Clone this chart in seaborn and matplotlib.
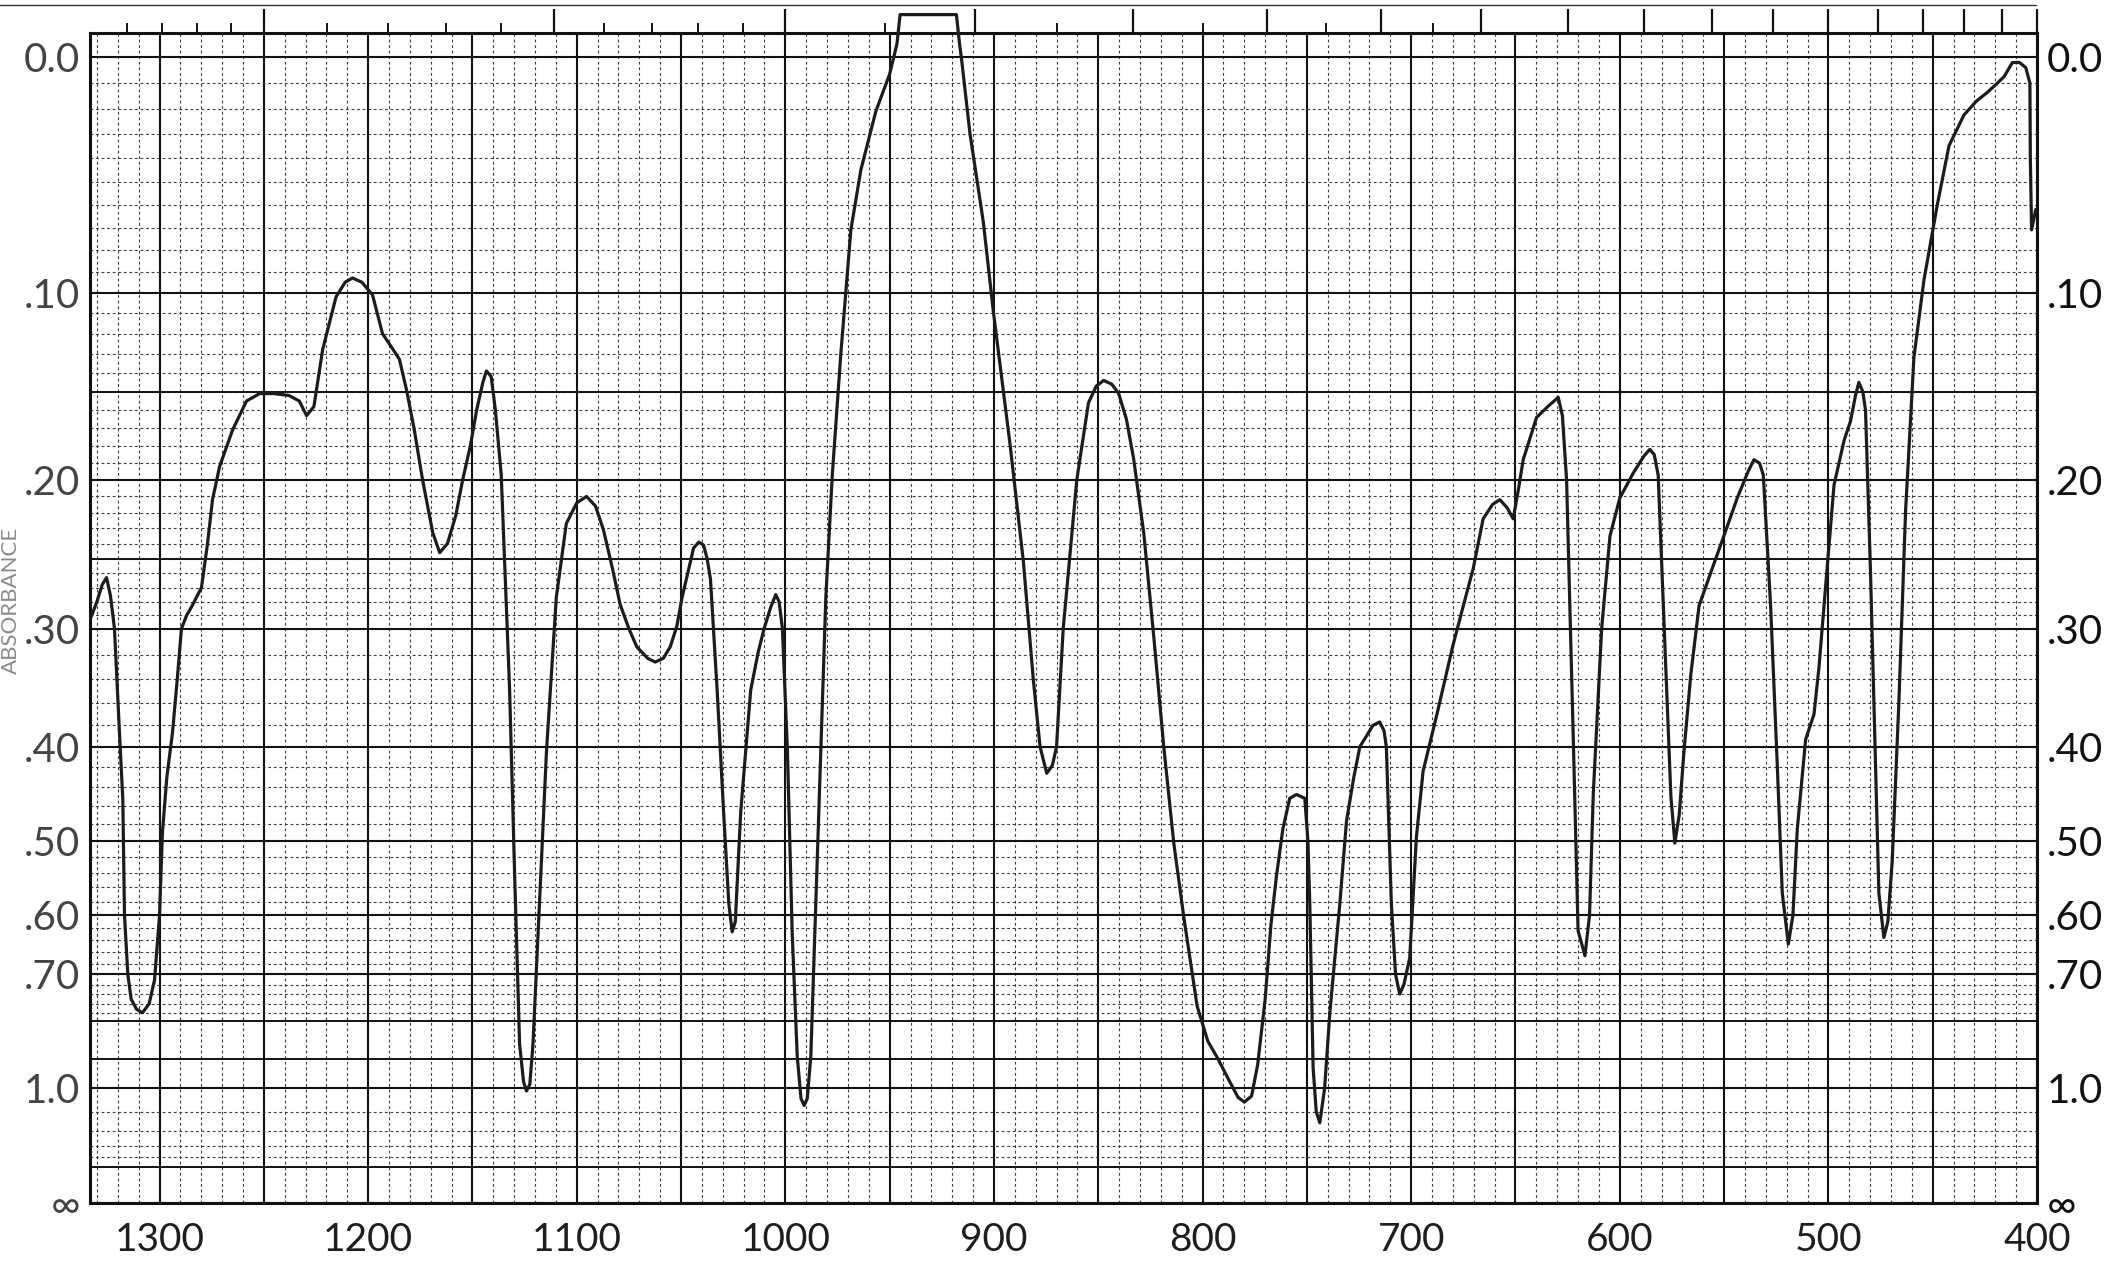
import numpy as np
import seaborn as sns
import matplotlib.pyplot as plt
from matplotlib.lines import Line2D

# wavenumber (cm-1) and absorbance
wavenumber = [
    1333.0, 1330.0, 1327.5, 1325.4, 1323.5, 1321.6, 1319.2, 1317.6, 1316.8, 1315.2,
    1313.6, 1311.0, 1308.2, 1305.0, 1302.4, 1300.0, 1298.6, 1296.5, 1293.8, 1291.5,
    1289.5, 1287.0, 1284.7, 1279.9, 1277.0, 1274.6, 1271.2, 1265.0, 1258.3, 1252.0,
    1245.0, 1238.0, 1233.0, 1229.5, 1226.0, 1221.8, 1215.4, 1211.0, 1207.5, 1203.0,
    1197.9, 1193.1, 1188.0, 1185.0, 1181.6, 1178.0, 1173.9, 1169.0, 1165.7, 1162.0,
    1158.0, 1154.7, 1151.0, 1148.0, 1145.0, 1143.3, 1141.0, 1139.0, 1136.2, 1132.2,
    1129.8, 1127.4, 1125.5, 1124.1, 1122.5, 1121.0, 1119.5, 1114.5, 1109.8, 1105.0,
    1100.0, 1095.3, 1091.0, 1087.2, 1083.0, 1079.2, 1075.0, 1071.2, 1066.0, 1062.4,
    1058.5, 1055.2, 1052.0, 1049.5, 1046.5, 1044.0, 1041.5, 1039.2, 1037.5, 1035.9,
    1032.7, 1029.6, 1027.1, 1025.5, 1024.0, 1021.4, 1016.6, 1013.0, 1010.2, 1007.0,
    1004.6, 1003.0, 1001.4, 999.0, 996.7, 994.3, 992.5, 991.0, 989.5, 987.8,
    985.4, 983.0, 980.6, 977.5, 973.4, 968.6, 963.8, 956.6, 950.0, 946.5,
    945.0, 930.0, 918.0, 916.5, 915.5, 911.5, 905.1, 900.3, 896.0, 892.3,
    885.9, 881.1, 877.9, 874.7, 872.0, 870.0, 866.8, 860.3, 854.7, 851.0,
    847.4, 843.5, 840.2, 836.5, 833.1, 828.2, 823.4, 818.6, 813.8, 809.0,
    802.6, 797.5, 792.9, 787.0, 783.0, 780.0, 776.5, 773.6, 770.0, 767.2,
    764.6, 761.5, 758.2, 755.0, 751.0, 749.5, 748.6, 747.0, 745.5, 743.8,
    741.5, 739.0, 734.2, 731.0, 727.5, 724.6, 718.3, 715.1, 713.0, 711.9,
    709.5, 707.5, 705.5, 703.5, 700.7, 697.5, 694.3, 687.9, 680.0, 675.0,
    670.3, 665.5, 661.0, 657.5, 654.0, 651.1, 648.5, 646.3, 639.9, 634.5,
    629.5, 627.5, 625.5, 622.3, 620.0, 616.7, 614.5, 612.7, 608.7, 604.7,
    600.0, 593.6, 588.5, 585.6, 583.5, 581.6, 577.6, 575.5, 573.6, 571.5,
    569.3, 566.0, 562.0, 556.5, 550.1, 543.7, 538.5, 535.7, 533.0, 531.2,
    527.7, 524.5, 522.1, 519.2, 517.0, 514.9, 510.9, 506.9, 504.5, 502.1,
    497.3, 492.5, 489.4, 487.0, 485.4, 483.5, 482.2, 479.8, 477.4, 475.8,
    473.4, 471.5, 469.4, 466.2, 463.0, 459.0, 454.2, 447.8, 442.2, 435.0,
    429.0, 423.8, 419.0, 415.8, 411.8, 408.5, 405.4, 403.4, 403.2, 402.6,
    401.5, 400.6,
]
absorbance = [
    0.292, 0.280, 0.268, 0.263, 0.276, 0.300, 0.387, 0.453, 0.600, 0.700,
    0.750, 0.772, 0.780, 0.760, 0.711, 0.600, 0.490, 0.430, 0.387, 0.340,
    0.300, 0.290, 0.284, 0.270, 0.240, 0.212, 0.192, 0.171, 0.155, 0.151,
    0.151, 0.152, 0.155, 0.163, 0.158, 0.128, 0.102, 0.095, 0.093, 0.095,
    0.101, 0.120, 0.128, 0.133, 0.149, 0.170, 0.200, 0.233, 0.246, 0.240,
    0.222, 0.200, 0.180, 0.160, 0.145, 0.139, 0.142, 0.160, 0.197, 0.348,
    0.540, 0.858, 0.975, 1.010, 0.985, 0.860, 0.705, 0.404, 0.277, 0.227,
    0.214, 0.210, 0.216, 0.231, 0.256, 0.282, 0.300, 0.314, 0.323, 0.326,
    0.323, 0.314, 0.298, 0.277, 0.258, 0.243, 0.239, 0.241, 0.250, 0.264,
    0.349, 0.467, 0.583, 0.626, 0.610, 0.467, 0.349, 0.318, 0.300, 0.284,
    0.275, 0.280, 0.300, 0.404, 0.630, 0.893, 1.040, 1.070, 1.040, 0.893,
    0.583, 0.404, 0.277, 0.197, 0.130, 0.071, 0.045, 0.021, 0.0065, -0.005,
    -0.0158, -0.0158, -0.0158, -0.005, 0.001, 0.030, 0.0675, 0.109, 0.145, 0.179,
    0.252, 0.341, 0.400, 0.426, 0.418, 0.400, 0.300, 0.200, 0.156, 0.147,
    0.144, 0.146, 0.151, 0.165, 0.187, 0.233, 0.306, 0.400, 0.503, 0.603,
    0.765, 0.850, 0.897, 0.975, 1.035, 1.055, 1.030, 0.919, 0.750, 0.614,
    0.545, 0.486, 0.452, 0.448, 0.452, 0.500, 0.583, 0.929, 1.100, 1.155,
    1.000, 0.780, 0.583, 0.477, 0.430, 0.400, 0.380, 0.377, 0.385, 0.400,
    0.583, 0.700, 0.739, 0.720, 0.670, 0.496, 0.424, 0.372, 0.313, 0.283,
    0.257, 0.224, 0.215, 0.212, 0.217, 0.224, 0.205, 0.188, 0.164, 0.158,
    0.153, 0.163, 0.200, 0.392, 0.624, 0.666, 0.600, 0.447, 0.300, 0.235,
    0.211, 0.196, 0.186, 0.182, 0.185, 0.197, 0.344, 0.450, 0.503, 0.470,
    0.406, 0.337, 0.283, 0.260, 0.235, 0.211, 0.195, 0.188, 0.190, 0.197,
    0.283, 0.418, 0.568, 0.646, 0.600, 0.486, 0.393, 0.370, 0.330, 0.283,
    0.203, 0.177, 0.166, 0.152, 0.145, 0.150, 0.160, 0.260, 0.418, 0.568,
    0.635, 0.610, 0.525, 0.359, 0.219, 0.132, 0.094, 0.060, 0.035, 0.0225,
    0.017, 0.0136, 0.010, 0.0075, 0.0021, 0.002, 0.004, 0.010, 0.040, 0.071,
    0.066, 0.062,
]

# absorbance axis labels (left and right)
abs_ticks = [0.0, 0.10, 0.20, 0.30, 0.40, 0.50, 0.60, 0.70, 1.0]
abs_labels = ["0.0", ".10", ".20", ".30", ".40", ".50", ".60", ".70", "1.0"]
abs_heavy = [0.15, 0.25, 0.8, 0.9, 1.5]
abs_minor = ([round(0.01 * i, 2) for i in range(1, 30)]
             + [round(0.30 + 0.02 * i, 2) for i in range(1, 25)]
             + [1.1, 1.2, 1.3, 1.4])
wn_labels = [1300, 1200, 1100, 1000, 900, 800, 700, 600, 500, 400]
micron_major = list(range(8, 26))
micron_minor = [7.6, 7.7, 7.8, 7.9, 8.2, 8.4, 8.6, 8.8, 9.2, 9.4, 9.6, 9.8,
                10.5, 11.5, 12.5, 13.5, 14.5]

sns.set_style("white")
plt.rcParams["font.family"] = ["Lato", "DejaVu Sans"]

W, H = 2110, 1263
fig = plt.figure(figsize=(W / 100, H / 100), dpi=100)
ax = fig.add_axes([90 / W, 1 - 1203 / H, (2037 - 90) / W, (1203 - 33) / H])

to_t = lambda a: 10 ** (-np.asarray(a, dtype=float))
trans = to_t(absorbance)

# chart paper grid
ax.set_xlim(1333.33, 400)
ax.set_ylim(0, 1.021)
major_x = np.arange(1300, 399, -50)
ax.set_xticks(major_x)
ax.set_xticklabels([str(v) if v in wn_labels else "" for v in major_x])
ax.set_xticks(np.arange(1330, 399, -10), minor=True)
ax.set_yticks(list(to_t(abs_ticks)) + [0.0])
ax.set_yticklabels(abs_labels + ["\u221e"])
ax.set_yticks(to_t(abs_minor), minor=True)
ax.grid(which="major", color="#111111", lw=1.5, ls="-")
ax.grid(which="minor", color="#3a3a3a", lw=0.8, ls=(0, (2.5, 2.5)))
for a in abs_heavy:
    ax.axhline(10 ** -a, color="#111111", lw=1.4, zorder=1)
ax.set_axisbelow(True)

sns.lineplot(x=wavenumber, y=trans, ax=ax, sort=False, estimator=None,
             color="#1c1c1c", linewidth=2.3, clip_on=False, zorder=5)

ax.set_xlabel("")
ax.set_ylabel("")
for s in ax.spines.values():
    s.set_color("#111111")
    s.set_linewidth(2.2)

ax.tick_params(axis="x", which="both", length=0, pad=14, labelsize=28,
               labelcolor="#1e1e1e")
ax.tick_params(axis="y", which="both", length=0, labelsize=29,
               left=False, right=False, labelleft=True, labelright=True)
ax.tick_params(axis="y", pad=7)
for t in ax.yaxis.get_major_ticks():
    t.label1.set_color("#444444")
    t.label2.set_color("#111111")

# micron scale ticks above the frame
top = ax.twiny()
top.set_xlim(ax.get_xlim())
top.set_xticks([1e4 / m for m in micron_major])
top.set_xticks([1e4 / m for m in micron_minor], minor=True)
top.tick_params(axis="x", which="major", direction="out", length=17, width=1.6,
                color="#111111", labeltop=False)
top.tick_params(axis="x", which="minor", direction="out", length=7, width=1.4,
                color="#111111")
top.set_xticklabels([])
for s in top.spines.values():
    s.set_visible(False)

fig.add_artist(Line2D([0.0, 0.965], [1 - 5 / H, 1 - 5 / H],
                      transform=fig.transFigure, color="#333333", lw=1.0))

fig.text(11 / W, 1 - 600 / H, "ABSORBANCE", rotation=90, ha="center",
         va="center", fontsize=16, color="#8a8a8a")

fig.savefig("out.png", dpi=100, facecolor="white")
